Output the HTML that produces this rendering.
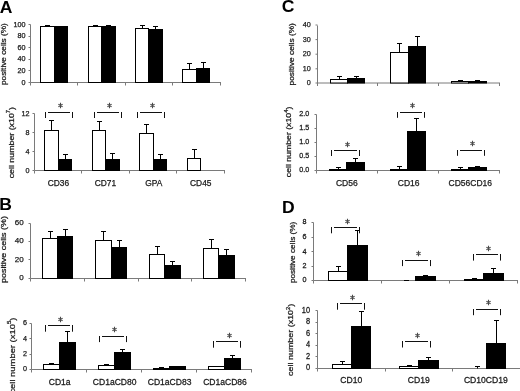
<!DOCTYPE html>
<html><head><meta charset="utf-8"><style>
html,body{margin:0;padding:0;background:#fff;width:520px;height:391px;overflow:hidden}
svg{display:block;will-change:transform;filter:blur(0.4px)}
text{font-family:"Liberation Sans", sans-serif}
.ax{stroke:#7a7a7a;stroke-width:1;fill:none}
.tl{text-anchor:end;fill:#1a1a1a;stroke:#1a1a1a;stroke-width:0.25px}
.cl{text-anchor:middle;fill:#1a1a1a;stroke:#1a1a1a;stroke-width:0.25px}
.yl{fill:#1a1a1a;stroke:#1a1a1a;stroke-width:0.25px}
.as{stroke:#4a4a4a;stroke-width:1.1;fill:none}
.pl{font-size:16.4px;font-weight:bold;fill:#000}
.wb{fill:#fff;stroke:#000;stroke-width:1}
.bb{fill:#000;stroke:#000;stroke-width:1}
.eb{stroke:#000;stroke-width:1;fill:none}
.br{stroke:#111;stroke-width:1;fill:none}
</style></head><body>
<svg width="520" height="391" viewBox="0 0 520 391" xmlns="http://www.w3.org/2000/svg">
<path d="M30.5 24.5V82.5H221M28.5 24.5H30.5M28.5 36.5H30.5M28.5 47.5H30.5M28.5 59.5H30.5M28.5 70.5H30.5M28.5 82.5H30.5M30.5 82.5v3M77.5 82.5v3M125.5 82.5v3M172.5 82.5v3M220.5 82.5v3" class="ax"/>
<text x="25.6" y="26.68" class="tl" font-size="7.2">100</text>
<text x="25.6" y="38.28" class="tl" font-size="7.2">80</text>
<text x="25.6" y="49.78" class="tl" font-size="7.2">60</text>
<text x="25.6" y="61.38" class="tl" font-size="7.2">40</text>
<text x="25.6" y="73.08" class="tl" font-size="7.2">20</text>
<text x="25.6" y="84.68" class="tl" font-size="7.2">0</text>
<rect x="40.5" y="26.5" width="14" height="56" class="wb"/>
<rect x="54.5" y="26.5" width="13" height="56" class="bb"/>
<rect x="88.5" y="26.5" width="13" height="56" class="wb"/>
<rect x="101.5" y="26.5" width="14" height="56" class="bb"/>
<rect x="135.5" y="28.5" width="13" height="54" class="wb"/>
<rect x="148.5" y="29.5" width="14" height="53" class="bb"/>
<rect x="182.5" y="69.5" width="14" height="13" class="wb"/>
<rect x="196.5" y="68.5" width="13" height="14" class="bb"/>
<path d="M47.5 26.5V25.5M45 25.5h5M95.5 26.5V25.5M93 25.5h5M108.5 26.5V25.5M106 25.5h5M142.5 28.5V25.5M140 25.5h5M155.5 29.5V26.5M153 26.5h5M189.5 69.5V63.5M187 63.5h5M203.5 68.5V62.5M201 62.5h5" class="eb"/>
<text transform="translate(6.3 85) rotate(-90)" x="0" y="0" textLength="61.8" lengthAdjust="spacingAndGlyphs" class="yl" font-size="7.4">positive cells (%)</text>
<path d="M34.5 113.5V170.5H225M32.5 113.5H34.5M32.5 132.5H34.5M32.5 151.5H34.5M32.5 170.5H34.5M34.5 170.5v3M81.5 170.5v3M129.5 170.5v3M176.5 170.5v3M224.5 170.5v3" class="ax"/>
<text x="29.6" y="115.68" class="tl" font-size="7.2">12</text>
<text x="29.6" y="134.68" class="tl" font-size="7.2">8</text>
<text x="29.6" y="153.68" class="tl" font-size="7.2">4</text>
<text x="29.6" y="172.68" class="tl" font-size="7.2">0</text>
<rect x="44.5" y="130.5" width="14" height="40" class="wb"/>
<rect x="58.5" y="159.5" width="13" height="11" class="bb"/>
<rect x="92.5" y="130.5" width="13" height="40" class="wb"/>
<rect x="105.5" y="159.5" width="14" height="11" class="bb"/>
<rect x="139.5" y="133.5" width="14" height="37" class="wb"/>
<rect x="153.5" y="159.5" width="13" height="11" class="bb"/>
<rect x="187.5" y="158.5" width="13" height="12" class="wb"/>
<path d="M51.5 130.5V120.5M49 120.5h5M65.5 159.5V154.5M63 154.5h5M99.5 130.5V121.5M97 121.5h5M112.5 159.5V153.5M110 153.5h5M146.5 133.5V124.5M144 124.5h5M160.5 159.5V154.5M158 154.5h5M194.5 158.5V149.5M192 149.5h5" class="eb"/>
<path d="M45.5 112V118M72.5 112V118M48 112.5H70" class="br"/>
<path d="M60.5 102.7V108.3M58.4 104.25L62.6 106.75M58.4 106.75L62.6 104.25" class="as"/>
<path d="M94.5 112V118M121.5 112V118M97 112.5H119" class="br"/>
<path d="M109.5 102.7V108.3M107.4 104.25L111.6 106.75M107.4 106.75L111.6 104.25" class="as"/>
<path d="M137.5 112V118M164.5 112V118M140 112.5H162" class="br"/>
<path d="M152.5 102.7V108.3M150.4 104.25L154.6 106.75M150.4 106.75L154.6 104.25" class="as"/>
<text transform="translate(58.45 185.7) scale(1 1.0)" class="cl" font-size="8.4">CD36</text>
<text transform="translate(105.4 185.7) scale(1 1.0)" class="cl" font-size="8.4">CD71</text>
<text transform="translate(153.85 185.7) scale(1 1.0)" class="cl" font-size="8.4">GPA</text>
<text transform="translate(200.75 185.7) scale(1 1.0)" class="cl" font-size="8.4">CD45</text>
<text transform="translate(13.5 178.3) rotate(-90)" x="0" y="0" textLength="71.3" lengthAdjust="spacingAndGlyphs" class="yl" font-size="7.8">cell number (x10<tspan dy="-3.6" font-size="5.2">7</tspan><tspan dy="3.6">)</tspan></text>
<path d="M30.5 223.5V278.5H246M28.5 223.5H30.5M28.5 241.5H30.5M28.5 259.5H30.5M28.5 278.5H30.5M30.5 278.5v3M84.5 278.5v3M138.5 278.5v3M191.5 278.5v3M245.5 278.5v3" class="ax"/>
<text x="23.6" y="225.16" class="tl" font-size="8.0">60</text>
<text x="23.6" y="243.06" class="tl" font-size="8.0">40</text>
<text x="23.6" y="261.56" class="tl" font-size="8.0">20</text>
<text x="23.6" y="279.96" class="tl" font-size="8.0">0</text>
<rect x="42.5" y="238.5" width="15" height="40" class="wb"/>
<rect x="57.5" y="236.5" width="15" height="42" class="bb"/>
<rect x="95.5" y="240.5" width="16" height="38" class="wb"/>
<rect x="111.5" y="247.5" width="15" height="31" class="bb"/>
<rect x="149.5" y="254.5" width="15" height="24" class="wb"/>
<rect x="164.5" y="265.5" width="16" height="13" class="bb"/>
<rect x="203.5" y="248.5" width="15" height="30" class="wb"/>
<rect x="218.5" y="255.5" width="16" height="23" class="bb"/>
<path d="M50.5 238.5V231.5M48 231.5h5M65.5 236.5V229.5M63 229.5h5M103.5 240.5V231.5M101 231.5h5M119.5 247.5V240.5M117 240.5h5M157.5 254.5V246.5M155 246.5h5M172.5 265.5V261.5M170 261.5h5M211.5 248.5V239.5M209 239.5h5M226.5 255.5V249.5M224 249.5h5" class="eb"/>
<text transform="translate(6.4 283) rotate(-90)" x="0" y="0" textLength="66.9" lengthAdjust="spacingAndGlyphs" class="yl" font-size="7.5">positive cells (%)</text>
<path d="M31.5 323.5V369.5H252M29.5 323.5H31.5M29.5 338.5H31.5M29.5 354.5H31.5M29.5 369.5H31.5M31.5 369.5v3M86.5 369.5v3M141.5 369.5v3M196.5 369.5v3M251.5 369.5v3" class="ax"/>
<text x="27" y="325.48" class="tl" font-size="7.2">6</text>
<text x="27" y="340.98" class="tl" font-size="7.2">4</text>
<text x="27" y="356.38" class="tl" font-size="7.2">2</text>
<text x="27" y="371.48" class="tl" font-size="7.2">0</text>
<rect x="43.5" y="364.5" width="16" height="5" class="wb"/>
<rect x="59.5" y="342.5" width="16" height="27" class="bb"/>
<rect x="98.5" y="365.5" width="16" height="4" class="wb"/>
<rect x="114.5" y="352.5" width="16" height="17" class="bb"/>
<rect x="153.5" y="368.5" width="16" height="1" class="wb"/>
<rect x="169.5" y="366.5" width="16" height="3" class="bb"/>
<rect x="208.5" y="366.5" width="16" height="3" class="wb"/>
<rect x="224.5" y="358.5" width="16" height="11" class="bb"/>
<path d="M51.5 364.5V363.5M49 363.5h5M67.5 342.5V331.5M65 331.5h5M106.5 365.5V364.5M104 364.5h5M122.5 352.5V349.5M120 349.5h5M161.5 368.5V367.5M159 367.5h5M232.5 358.5V355.5M230 355.5h5" class="eb"/>
<path d="M45.5 325V331.7M72.5 325V331.7M48 325.5H70" class="br"/>
<path d="M60.5 316.7V322.3M58.4 318.25L62.6 320.75M58.4 320.75L62.6 318.25" class="as"/>
<path d="M99.5 336V342.1M126.5 336V342.1M102 336.5H124" class="br"/>
<path d="M114.5 326.7V332.3M112.4 328.25L116.6 330.75M112.4 330.75L116.6 328.25" class="as"/>
<path d="M213.5 341V347.7M240.5 341V347.7M216 341.5H238" class="br"/>
<path d="M229.5 332.7V338.3M227.4 334.25L231.6 336.75M227.4 336.75L231.6 334.25" class="as"/>
<text transform="translate(59.7 385.4) scale(1 1.07)" class="cl" font-size="8.55">CD1a</text>
<text transform="translate(114.7 385.4) scale(1 1.07)" class="cl" font-size="8.55">CD1aCD80</text>
<text transform="translate(169.55 385.4) scale(1 1.07)" class="cl" font-size="8.55">CD1aCD83</text>
<text transform="translate(224.97 385.4) scale(1 1.07)" class="cl" font-size="8.55">CD1aCD86</text>
<text transform="translate(14.9 393.6) rotate(-90)" x="0" y="0" textLength="76.1" lengthAdjust="spacingAndGlyphs" class="yl" font-size="7.9">cell number (x10<tspan dy="-3.6" font-size="5.2">5</tspan><tspan dy="3.6">)</tspan></text>
<path d="M317.5 25.5V83H500M315.5 25H317.5M315.5 39.6H317.5M315.5 54.2H317.5M315.5 68.8H317.5M315.5 83H317.5M317.5 83v3M377.5 83v3M438.5 83v3M499.5 83v3" class="ax"/>
<text x="310.8" y="27.18" class="tl" font-size="7.2">40</text>
<text x="310.8" y="41.78" class="tl" font-size="7.2">30</text>
<text x="310.8" y="56.38" class="tl" font-size="7.2">20</text>
<text x="310.8" y="70.98" class="tl" font-size="7.2">10</text>
<text x="310.8" y="85.18" class="tl" font-size="7.2">0</text>
<rect x="330.5" y="79.5" width="17" height="3.5" class="wb"/>
<rect x="347.5" y="78.5" width="17" height="4.5" class="bb"/>
<rect x="390.5" y="52.5" width="18" height="30.5" class="wb"/>
<rect x="408.5" y="46.5" width="17" height="36.5" class="bb"/>
<rect x="451.5" y="81.5" width="17" height="1.5" class="wb"/>
<rect x="468.5" y="81.5" width="18" height="1.5" class="bb"/>
<path d="M339.5 79.5V76.5M337 76.5h5M356.5 78.5V76.5M354 76.5h5M399.5 52.5V43.5M397 43.5h5M417.5 46.5V36.5M415 36.5h5M460.5 81.5V80.5M458 80.5h5M477.5 81.5V80.5M475 80.5h5" class="eb"/>
<text transform="translate(293.7 85.4) rotate(-90)" x="0" y="0" textLength="62.2" lengthAdjust="spacingAndGlyphs" class="yl" font-size="7.4">positive cells (%)</text>
<path d="M316.5 114.5V170.5H500M314.5 114.5H316.5M314.5 128.5H316.5M314.5 142.5H316.5M314.5 156.5H316.5M314.5 170.5H316.5M316.5 170.5v3M377.5 170.5v3M438.5 170.5v3M499.5 170.5v3" class="ax"/>
<text transform="translate(309.3 116.04) scale(1 1.1)" class="tl" font-size="7.2">2.0</text>
<text transform="translate(309.3 130.04) scale(1 1.1)" class="tl" font-size="7.2">1.5</text>
<text transform="translate(309.3 143.74) scale(1 1.1)" class="tl" font-size="7.2">1.0</text>
<text transform="translate(309.3 157.74) scale(1 1.1)" class="tl" font-size="7.2">0.5</text>
<text transform="translate(309.3 171.64) scale(1 1.1)" class="tl" font-size="7.2">0.0</text>
<rect x="329.5" y="169.5" width="17" height="1" class="wb"/>
<rect x="346.5" y="162.5" width="18" height="8" class="bb"/>
<rect x="390.5" y="169.5" width="17" height="1" class="wb"/>
<rect x="407.5" y="131.5" width="18" height="39" class="bb"/>
<rect x="451.5" y="169.5" width="17" height="1" class="wb"/>
<rect x="468.5" y="167.5" width="18" height="3" class="bb"/>
<path d="M338.5 169.5V167.5M336 167.5h5M355.5 162.5V158.5M353 158.5h5M399.5 169.5V166.5M397 166.5h5M416.5 131.5V118.5M414 118.5h5M460.5 169.5V167.5M458 167.5h5M477.5 167.5V166.5M475 166.5h5" class="eb"/>
<path d="M331.5 150V156M359.5 150V156M334 150.5H357" class="br"/>
<path d="M347.5 141.7V147.3M345.4 143.25L349.6 145.75M345.4 145.75L349.6 143.25" class="as"/>
<path d="M397.5 112V117.8M424.5 112V117.8M400 112.5H422" class="br"/>
<path d="M412.5 102.7V108.3M410.4 104.25L414.6 106.75M410.4 106.75L414.6 104.25" class="as"/>
<path d="M457.5 150V155.8M484.5 150V155.8M460 150.5H482" class="br"/>
<path d="M472.5 140.7V146.3M470.4 142.25L474.6 144.75M470.4 144.75L474.6 142.25" class="as"/>
<text transform="translate(346.8 185.9) scale(1 1.0)" class="cl" font-size="8.5">CD56</text>
<text transform="translate(408.7 185.9) scale(1 1.0)" class="cl" font-size="8.5">CD16</text>
<text transform="translate(470.25 185.9) scale(1 1.0)" class="cl" font-size="8.5">CD56CD16</text>
<text transform="translate(291.2 177.2) rotate(-90)" x="0" y="0" textLength="70.6" lengthAdjust="spacingAndGlyphs" class="yl" font-size="7.5">cell number (x10<tspan dy="-3.6" font-size="5.2">4</tspan><tspan dy="3.6">)</tspan></text>
<path d="M313.5 222.5V280.5H518M311.5 222.5H313.5M311.5 237.5H313.5M311.5 251.5H313.5M311.5 266.5H313.5M311.5 280.5H313.5M313.5 280.5v3M381.5 280.5v3M449.5 280.5v3M517.5 280.5v3" class="ax"/>
<text transform="translate(306.4 224.18) scale(1 1.08)" class="tl" font-size="7.2">8</text>
<text transform="translate(306.4 239.28) scale(1 1.08)" class="tl" font-size="7.2">6</text>
<text transform="translate(306.4 253.68) scale(1 1.08)" class="tl" font-size="7.2">4</text>
<text transform="translate(306.4 268.18) scale(1 1.08)" class="tl" font-size="7.2">2</text>
<text transform="translate(306.4 282.48) scale(1 1.08)" class="tl" font-size="7.2">0</text>
<rect x="328.5" y="271.5" width="19" height="9" class="wb"/>
<rect x="347.5" y="245.5" width="20" height="35" class="bb"/>
<rect x="415.5" y="276.5" width="20" height="4" class="bb"/>
<rect x="464.5" y="279.5" width="19" height="1" class="wb"/>
<rect x="483.5" y="273.5" width="20" height="7" class="bb"/>
<path d="M338.5 271.5V266.5M336 266.5h5M357.5 245.5V230.5M355 230.5h5M406.5 280.5V280.5M404 280.5h5M425.5 276.5V275.5M423 275.5h5M474.5 279.5V278.5M472 278.5h5M493.5 273.5V268.5M491 268.5h5" class="eb"/>
<path d="M331.5 227V233.3M359.5 227V233.3M334 227.5H357" class="br"/>
<path d="M347.5 218.7V224.3M345.4 220.25L349.6 222.75M345.4 222.75L349.6 220.25" class="as"/>
<path d="M402.5 260V266.1M430.5 260V266.1M405 260.5H428" class="br"/>
<path d="M418.5 250.7V256.3M416.4 252.25L420.6 254.75M416.4 254.75L420.6 252.25" class="as"/>
<path d="M473.5 254V260.6M500.5 254V260.6M476 254.5H498" class="br"/>
<path d="M488.5 245.7V251.3M486.4 247.25L490.6 249.75M486.4 249.75L490.6 247.25" class="as"/>
<text transform="translate(294.9 283.1) rotate(-90)" x="0" y="0" textLength="61.4" lengthAdjust="spacingAndGlyphs" class="yl" font-size="7.5">positive cells (%)</text>
<path d="M317.5 310.5V368.5H521M315.5 310.5H317.5M315.5 322.5H317.5M315.5 333.5H317.5M315.5 345.5H317.5M315.5 356.5H317.5M315.5 368.5H317.5M317.5 368.5v3M385.5 368.5v3M452.5 368.5v3M520.5 368.5v3" class="ax"/>
<text transform="translate(310 312.77) scale(1 1.12)" class="tl" font-size="7.4">10</text>
<text transform="translate(310 324.47) scale(1 1.12)" class="tl" font-size="7.4">8</text>
<text transform="translate(310 335.87) scale(1 1.12)" class="tl" font-size="7.4">6</text>
<text transform="translate(310 347.17) scale(1 1.12)" class="tl" font-size="7.4">4</text>
<text transform="translate(310 358.87) scale(1 1.12)" class="tl" font-size="7.4">2</text>
<text transform="translate(310 370.47) scale(1 1.12)" class="tl" font-size="7.4">0</text>
<rect x="332.5" y="364.5" width="19" height="4" class="wb"/>
<rect x="351.5" y="326.5" width="19" height="42" class="bb"/>
<rect x="399.5" y="366.5" width="19" height="2" class="wb"/>
<rect x="418.5" y="360.5" width="20" height="8" class="bb"/>
<rect x="486.5" y="343.5" width="19" height="25" class="bb"/>
<path d="M342.5 364.5V361.5M340 361.5h5M361.5 326.5V311.5M359 311.5h5M409.5 366.5V365.5M407 365.5h5M428.5 360.5V357.5M426 357.5h5M477.5 368.5V366.5M475 366.5h5M496.5 343.5V320.5M494 320.5h5" class="eb"/>
<path d="M337.5 303V309.7M364.5 303V309.7M340 303.5H362" class="br"/>
<path d="M352.5 294.7V300.3M350.4 296.25L354.6 298.75M350.4 298.75L354.6 296.25" class="as"/>
<path d="M402.5 341V347.5M430.5 341V347.5M405 341.5H428" class="br"/>
<path d="M417.5 332.7V338.3M415.4 334.25L419.6 336.75M415.4 336.75L419.6 334.25" class="as"/>
<path d="M473.5 309V315.2M500.5 309V315.2M476 309.5H498" class="br"/>
<path d="M488.5 299.7V305.3M486.4 301.25L490.6 303.75M486.4 303.75L490.6 301.25" class="as"/>
<text transform="translate(351.3 383.4) scale(1 1.08)" class="cl" font-size="8.6">CD10</text>
<text transform="translate(418.8 383.4) scale(1 1.08)" class="cl" font-size="8.6">CD19</text>
<text transform="translate(485.85 383.4) scale(1 1.08)" class="cl" font-size="8.6">CD10CD19</text>
<text transform="translate(293.3 375.9) rotate(-90)" x="0" y="0" textLength="72.2" lengthAdjust="spacingAndGlyphs" class="yl" font-size="8.0">cell number (x10<tspan dy="-3.6" font-size="5.2">2</tspan><tspan dy="3.6">)</tspan></text>
<text transform="translate(-0.2 12.5) scale(1.07 1)" class="pl">A</text>
<text transform="translate(-0.8 210) scale(1.07 1)" class="pl">B</text>
<text transform="translate(281.8 12.4) scale(1.07 1)" class="pl">C</text>
<text transform="translate(282 213.2) scale(1.07 1)" class="pl">D</text>
</svg>
</body></html>
